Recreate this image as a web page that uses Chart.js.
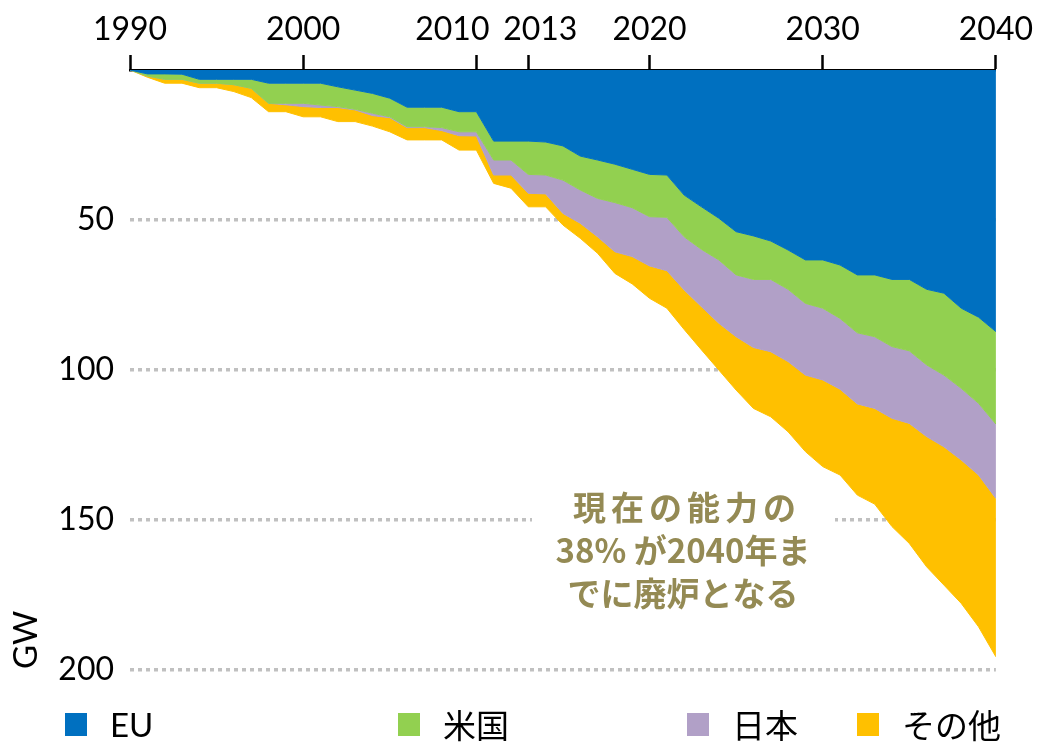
<!DOCTYPE html>
<html>
<head>
<meta charset="utf-8">
<script src="https://cdn.jsdelivr.net/npm/chart.js@4"></script>
<style>
body { margin: 0; background: #fff; }
#wrap { position: relative; width: 1039px; height: 744px; }
.lg { position: absolute; top: 704px; height: 40px; display: flex; align-items: center;
      font-family: Lato, "Noto Sans CJK JP", sans-serif; font-size: 33px; color: #000; white-space: nowrap; }
.lg .box { display: inline-block; width: 22px; height: 23px; margin-right: 23px; }
</style>
</head>
<body>
<div id="wrap">
  <canvas id="chart" width="1039" height="744"></canvas>
</div>
<script>
// retired capacity (GW), cumulative per region
var years = [1990, 1991, 1992, 1993, 1994, 1995, 1996, 1997, 1998, 1999,
             2000, 2001, 2002, 2003, 2004, 2005, 2006, 2007, 2008, 2009,
             2010, 2011, 2012, 2013, 2014, 2015, 2016, 2017, 2018, 2019,
             2020, 2021, 2022, 2023, 2024, 2025, 2026, 2027, 2028, 2029,
             2030, 2031, 2032, 2033, 2034, 2035, 2036, 2037, 2038, 2039, 2040];

var eu = [0, 1.3, 1.3, 1.4, 3.1, 3.1, 3.1, 3.1, 4.4, 4.4,
          4.4, 4.4, 5.6, 6.7, 7.8, 9.4, 12.4, 12.4, 12.4, 13.9,
          13.9, 23.7, 23.7, 23.7, 24.0, 25.3, 28.7, 30.0, 31.4, 33.1,
          34.8, 35.0, 41.7, 45.6, 49.4, 53.9, 55.3, 57.0, 60.0, 63.3,
          63.3, 65.0, 68.3, 68.3, 69.8, 69.8, 73.1, 74.4, 79.4, 82.4, 87.2];

var us = [0, 0.7, 1.8, 1.7, 1.3, 1.3, 1.8, 3.0, 6.7, 6.7,
          6.7, 7.3, 6.6, 6.4, 6.6, 6.2, 6.5, 6.5, 6.8, 6.7,
          6.7, 6.3, 6.3, 11.1, 11.0, 11.4, 11.3, 12.8, 12.8, 12.8,
          14.1, 14.1, 13.9, 14.2, 13.9, 14.4, 14.5, 12.8, 13.1, 14.5,
          16.1, 17.8, 19.3, 20.6, 22.4, 23.8, 25.2, 27.3, 26.7, 28.7, 30.8];

var japan = [0, 0, 0, 0, 0, 0, 0, 0, 0, 0.5,
             1.1, 0.8, 0.3, 0.2, 0.8, 0.3, 0.3, 0.3, 1.0, 1.3,
             1.4, 5.0, 5.0, 6.3, 6.3, 11.1, 11.1, 12.8, 16.4, 16.3,
             16.4, 17.8, 17.7, 19.1, 21.1, 20.6, 22.7, 24.1, 24.1, 23.9,
             23.9, 23.6, 23.7, 23.9, 23.9, 24.2, 23.9, 23.9, 23.9, 23.9, 24.8];

var other = [0, 0.4, 1.3, 1.3, 1.5, 1.5, 2.3, 3.1, 2.8, 2.3,
             3.4, 3.1, 4.7, 3.9, 3.5, 4.7, 4.1, 4.1, 3.1, 4.8,
             4.7, 2.8, 4.4, 4.5, 4.3, 3.9, 5.0, 5.5, 7.2, 9.1,
             10.8, 12.5, 13.2, 14.4, 15.6, 17.8, 20.3, 21.7, 23.4, 25.5,
             28.9, 28.6, 30.4, 31.9, 36.1, 40.0, 43.4, 46.1, 47.8, 50.6, 52.8];

var tickYears = [1990, 2000, 2010, 2013, 2020, 2030, 2040];
var seriesNames = ['EU', '米国', '日本', 'その他'];
var seriesColors = ['#0070C0', '#92D050', '#B1A0C7', '#FFC000'];
var noteLines = ['現在の能力の', '38% が2040年ま', 'でに廃炉となる'];

var legendLeft = [65, 398, 687, 857];

function points(vals) {
    return years.map(function (yr, i) { return { x: yr, y: vals[i] }; });
}

var allSeries = [eu, us, japan, other];
var datasets = allSeries.map(function (vals, i) {
    return {
        label: seriesNames[i],
        data: points(vals),
        backgroundColor: seriesColors[i],
        borderColor: seriesColors[i],
        borderWidth: 1,
        pointRadius: 0,
        tension: 0,
        fill: i === 0 ? 'origin' : '-1'
    };
});

// white box behind the note, then the note and the GW label on top
var notePlugin = {
    id: 'note',
    beforeDatasetsDraw: function (chart) {
        var ctx = chart.ctx;
        ctx.save();
        ctx.fillStyle = '#fff';
        ctx.fillRect(532, 478, 303, 140);
        ctx.restore();
    },
    afterDatasetsDraw: function (chart) {
        var ctx = chart.ctx;
        ctx.save();
        ctx.fillStyle = '#948A54';
        ctx.font = 'bold 33px "Noto Sans CJK JP"';
        ctx.textAlign = 'center';
        ctx.textBaseline = 'middle';
        noteLines.forEach(function (t, i) {
            ctx.letterSpacing = i === 0 ? '5px' : '0px';
            ctx.fillText(t, i === 0 ? 687 : 683, 507 + i * 43);
        });
        ctx.letterSpacing = '0px';
        ctx.fillStyle = '#000';
        ctx.font = '33px Lato';
        ctx.translate(26, 640);
        ctx.rotate(-Math.PI / 2);
        ctx.fillText('GW', 0, 0);
        ctx.restore();
    }
};

Chart.defaults.font.family = 'Lato';

new Chart(document.getElementById('chart'), {
    type: 'line',
    data: { datasets: datasets },
    plugins: [notePlugin],
    options: {
        responsive: false,
        animation: false,
        layout: { padding: { left: 0, right: 41, top: 0, bottom: 74 } },
        plugins: {
            legend: { display: false },
            tooltip: { enabled: false }
        },
        scales: {
            x: {
                type: 'linear',
                position: 'top',
                min: 1990,
                max: 2040,
                afterBuildTicks: function (scale) {
                    scale.ticks = tickYears.map(function (v) { return { value: v }; });
                },
                afterFit: function (scale) { scale.height = 70; },
                ticks: {
                    color: '#000',
                    font: { size: 32 },
                    padding: 6,
                    maxRotation: 0,
                    autoSkip: false,
                    // 2010 and 2013 sit close together, nudge their labels apart
                    callback: function (v) {
                        if (v === 2010) return '2010\u2003\u2003';
                        if (v === 2013) return '\u20032013';
                        return String(v);
                    }
                },
                grid: {
                    display: true,
                    drawOnChartArea: false,
                    drawTicks: true,
                    tickLength: 15,
                    tickColor: '#000',
                    tickWidth: 2.5
                },
                border: { display: true, color: '#000', width: 2.5 }
            },
            y: {
                stacked: true,
                reverse: true,
                min: 0,
                max: 200,
                afterFit: function (scale) { scale.width = 130; },
                ticks: {
                    stepSize: 50,
                    color: '#000',
                    font: { size: 32 },
                    padding: 16,
                    callback: function (v) { return v === 0 ? '' : v; }
                },
                grid: {
                    drawTicks: false,
                    lineWidth: 3.5,
                    color: function (c) { return c.tick && c.tick.value === 0 ? 'rgba(0,0,0,0)' : '#C0C0C0'; }
                },
                border: { display: false, dash: [4, 4] }
            }
        }
    }
});

// legend, built from the series names and colours
var wrap = document.getElementById('wrap');
seriesNames.forEach(function (name, i) {
    var item = document.createElement('div');
    item.className = 'lg';
    item.style.left = legendLeft[i] + 'px';
    var box = document.createElement('span');
    box.className = 'box';
    box.style.background = seriesColors[i];
    item.appendChild(box);
    item.appendChild(document.createTextNode(name));
    wrap.appendChild(item);
});
</script>
</body>
</html>
